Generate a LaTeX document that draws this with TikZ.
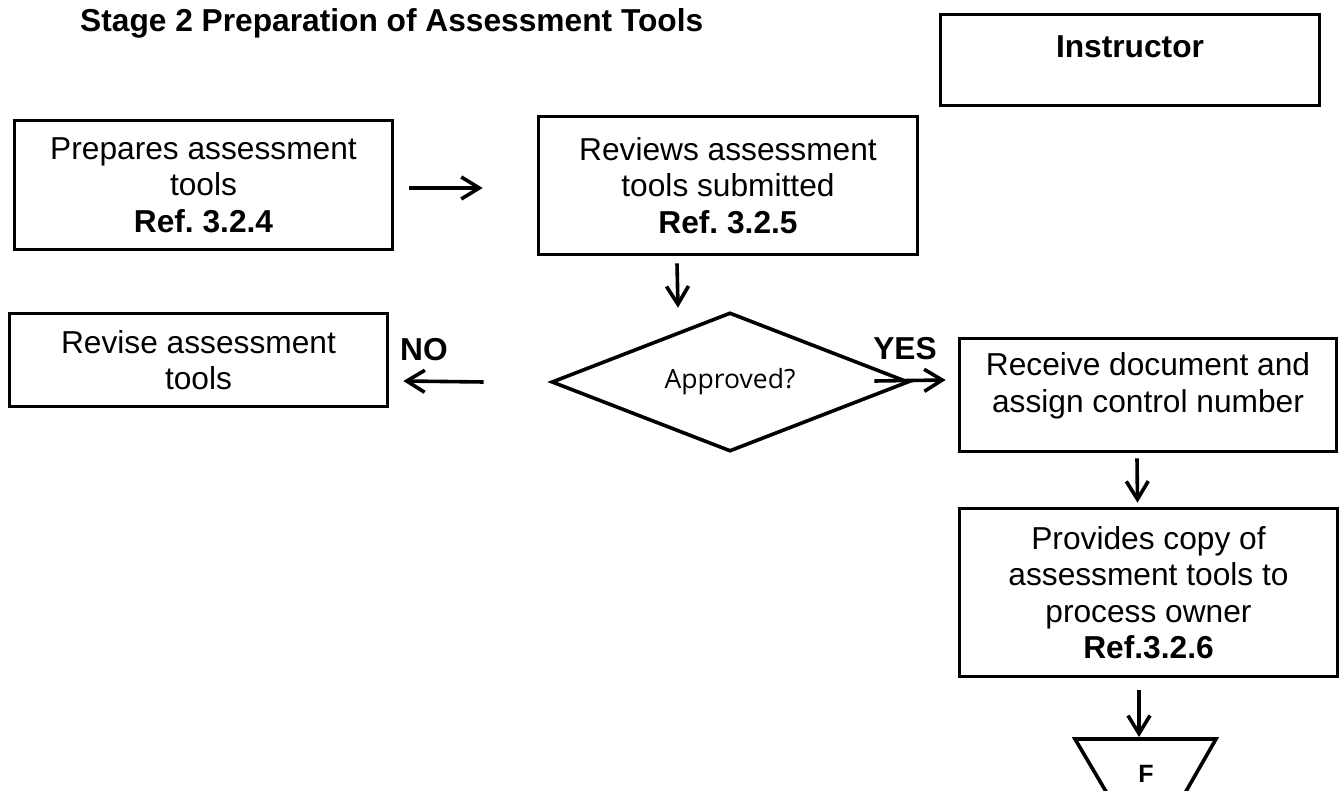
\documentclass[tikz,border=0pt]{standalone}
\usepackage{fontspec}
\setmainfont{Liberation Sans}
\newfontfamily\osans{Open Sans}
\usetikzlibrary{arrows.meta,calc,shapes.geometric}
\newcommand\mainsz{\fontsize{31.7}{36.5}\selectfont}
\begin{document}
\begin{tikzpicture}[x=1pt,y=-1pt,
  lw/.style={line width=3.6pt},
  box/.style={draw,lw,rectangle,inner sep=0pt,align=center,font=\mainsz},
  txt/.style={align=center,font=\mainsz,inner sep=0pt},
  btxt/.style={font=\mainsz\bfseries,inner sep=0pt},
  arr/.style={lw,-{Straight Barb[length=18pt,width=22pt]}}]
\useasboundingbox (0,0) rectangle (1342,791);
\fill[white] (0,0) rectangle (1342,791);
% title
\node[btxt,anchor=base west] (title) at (80,32) {Stage 2 Preparation of Assessment Tools};
% instructor
\node[box,minimum width=379,minimum height=91] (instr) at (1130,60) {};
\node[btxt] (instrtxt) at (1130,47) {Instructor};
% boxes
\node[box,minimum width=378,minimum height=129] (prep) at (203.5,185) {Prepares assessment\\tools\\\textbf{Ref.\ 3.2.4}};
\node[box,minimum width=379,minimum height=138] (rev) at (728,185.5) {Reviews assessment\\tools submitted\\\textbf{Ref.\ 3.2.5}};
\node[box,minimum width=378,minimum height=93] (revise) at (198.5,360) {Revise assessment\\tools};
\node[draw,lw,diamond,aspect=2.53,minimum width=357,minimum height=139,inner sep=0pt,font=\osans\fontsize{26.5}{30}\selectfont] (dia) at (730,382) {Approved?};
\node[box,minimum width=377,minimum height=113] (recv) at (1148,395) {};
\node[txt] (recvtxt) at (1148,386) {Receive document and\\assign control number};
\node[box,minimum width=378,minimum height=168] (prov) at (1148.5,592.5) {Provides copy of\\assessment tools to\\process owner\\\textbf{Ref.3.2.6}};
% labels
\node[btxt] (no) at (424,350) {NO};
\node[btxt] (yes) at (905,349) {YES};
% off-page connector
\draw[lw] (1075,739) -- (1216,739) -- (1181,800) -- (1111,800) -- cycle;
\coordinate (ftop) at (1145.5,739);
\node[font=\fontsize{25}{29}\selectfont\bfseries,inner sep=0pt] (f) at (1146,774) {F};
% arrows
\draw[arr] ($(prep.east)+(15,3)$) -- ($(rev.west)+(-54,2.5)$);
\draw[arr] ($(rev.south)+(-51,7)$) -- ($(dia.north)+(-52,-3)$);
\draw[arr] ($(dia.west)+(-66,0)$) -- ($(revise.east)+(14,21)$);
\draw[arr] ($(dia.east)+(-36,-1)$) -- ($(recv.west)+(-12,-15)$);
\draw[arr] ($(recv.south)+(-11,5)$) -- ($(prov.north)+(-11,-4)$);
\draw[arr] ($(prov.south)+(-9.5,12)$) -- ($(ftop)+(-6.5,-2)$);
\end{tikzpicture}
\end{document}
